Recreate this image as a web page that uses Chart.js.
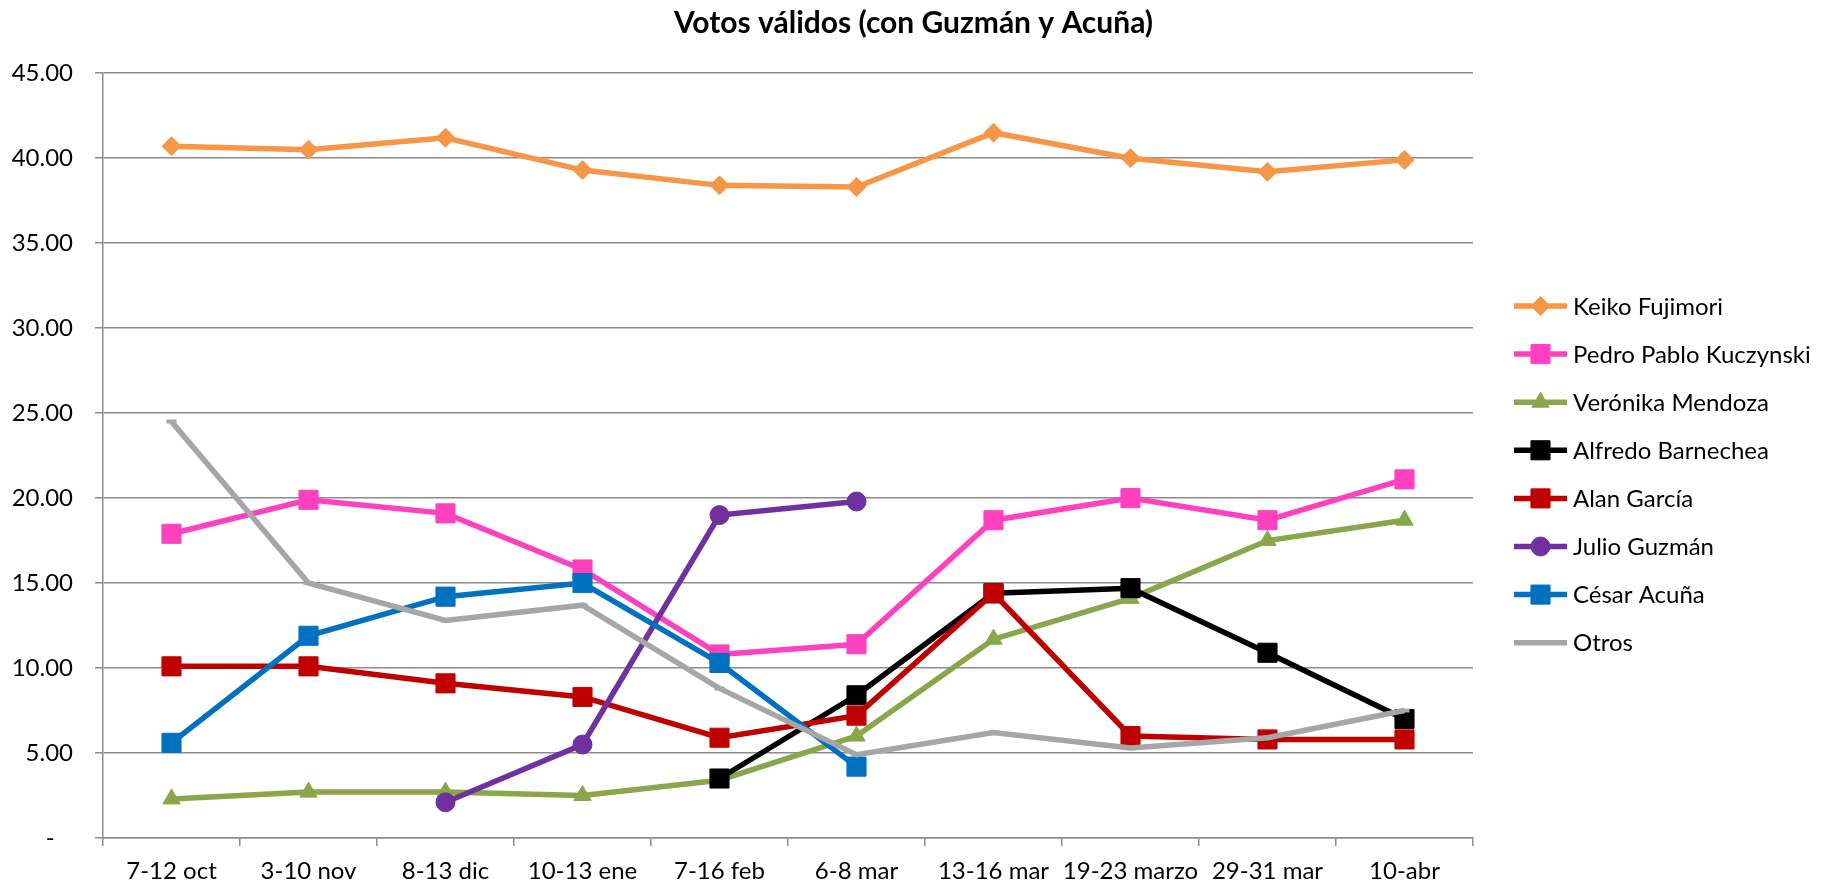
<!DOCTYPE html>
<html>
<head>
<meta charset="utf-8">
<title>Votos válidos</title>
<script src="https://cdn.jsdelivr.net/npm/chart.js@4"></script>
<style>
    body { margin: 0; background: #fff; }
    #wrap { width: 1827px; height: 886px; position: relative; }
</style>
</head>
<body>
<div id="wrap"><canvas id="lineChart"></canvas></div>
<script>
// Survey dates (x axis)
const fechas = ['7-12 oct', '3-10 nov', '8-13 dic', '10-13 ene', '7-16 feb', '6-8 mar', '13-16 mar', '19-23 marzo', '29-31 mar', '10-abr'];

// Valid votes per candidate (%), null where the candidate was not polled
const keiko = [40.7, 40.5, 41.2, 39.3, 38.4, 38.3, 41.5, 40.0, 39.2, 39.9];
const ppk = [17.9, 19.9, 19.1, 15.8, 10.8, 11.4, 18.7, 20.0, 18.7, 21.1];
const mendoza = [2.3, 2.7, 2.7, 2.5, 3.4, 6.0, 11.7, 14.1, 17.5, 18.7];
const barnechea = [null, null, null, null, 3.5, 8.4, 14.4, 14.7, 10.9, 7.0];
const garcia = [10.1, 10.1, 9.1, 8.3, 5.9, 7.2, 14.4, 6.0, 5.8, 5.8];
const guzman = [null, null, 2.1, 5.5, 19.0, 19.8, null, null, null, null];
const acuna = [5.6, 11.9, 14.2, 15.0, 10.3, 4.2, null, null, null, null];
const otros = [24.5, 15.0, 12.8, 13.7, 8.8, 4.9, 6.2, 5.3, 5.9, 7.5];

const yTicks = [0, 5, 10, 15, 20, 25, 30, 35, 40, 45];

const FONT = 'Lato';
const gridColor = '#8c8c8c';

function serie(label, data, color, style, radius) {
    return {
        label: label,
        data: data,
        borderColor: color,
        backgroundColor: color,
        borderWidth: 5.5,
        pointStyle: style,
        pointRadius: radius,
        pointBorderWidth: 1,
        pointBackgroundColor: color,
        pointBorderColor: color,
        tension: 0
    };
}

const datasets = [
    serie('Keiko Fujimori', keiko, '#F79646', 'rectRot', 9.5),
    serie('Pedro Pablo Kuczynski', ppk, '#FF40BF', 'rect', 13.5),
    serie('Verónika Mendoza', mendoza, '#8AA64A', 'triangle', 10),
    serie('Alfredo Barnechea', barnechea, '#000000', 'rect', 13.5),
    serie('Alan García', garcia, '#C00000', 'rect', 13.5),
    serie('Julio Guzmán', guzman, '#7030A0', 'circle', 9.5),
    serie('César Acuña', acuna, '#0070C0', 'rect', 13.5),
    serie('Otros', otros, '#A6A6A6', 'line', 5)
];
// later series are painted on top, like the original sheet
datasets.forEach((ds, i) => { ds.order = datasets.length - i; });
datasets[7].pointBorderWidth = 4;

// legend on the right: line with marker, then the name
const sideLegend = {
    id: 'sideLegend',
    afterDraw(chart) {
        const ctx = chart.ctx;
        chart.data.datasets.forEach((ds, i) => {
            const y = 306 + 48.1 * i;
            ctx.save();
            ctx.strokeStyle = ds.borderColor;
            ctx.fillStyle = ds.borderColor;
            ctx.lineWidth = 5.5;
            ctx.beginPath();
            ctx.moveTo(1514, y);
            ctx.lineTo(1567, y);
            ctx.stroke();
            if (ds.pointStyle !== 'line') {
                ctx.lineWidth = 1;
                Chart.helpers.drawPoint(ctx, { pointStyle: ds.pointStyle, radius: ds.pointRadius, borderWidth: 1, rotation: 0 }, 1540.5, y);
            }
            ctx.fillStyle = '#000';
            ctx.font = '24px ' + FONT;
            ctx.textAlign = 'left';
            ctx.textBaseline = 'middle';
            ctx.fillText(ds.label, 1573, y + 1);
            ctx.restore();
        });
    }
};

const ctx = document.getElementById('lineChart').getContext('2d');
new Chart(ctx, {
    type: 'line',
    data: {
        labels: fechas,
        datasets: datasets
    },
    options: {
        responsive: true,
        maintainAspectRatio: false,
        animation: false,
        layout: {
            padding: 0
        },
        plugins: {
            legend: { display: false },
            tooltip: { enabled: false },
            title: {
                display: true,
                text: 'Votos válidos (con Guzmán y Acuña)',
                color: '#000',
                font: { family: FONT, size: 30, weight: 'bold' },
                padding: { top: 5, bottom: 32.2 }
            }
        },
        scales: {
            x: {
                offset: true,
                grid: {
                    offset: true,
                    drawOnChartArea: false,
                    tickLength: 8,
                    color: gridColor,
                    lineWidth: 1.5
                },
                border: { color: gridColor, width: 1.5 },
                ticks: {
                    color: '#000',
                    font: { family: FONT, size: 24 },
                    padding: 11,
                    maxRotation: 0,
                    autoSkip: false
                },
                afterFit: s => { s.height = 48; }
            },
            y: {
                min: 0,
                max: 45,
                afterBuildTicks: s => { s.ticks = yTicks.map(v => ({ value: v })); },
                grid: {
                    tickLength: 8,
                    color: gridColor,
                    lineWidth: 1.5
                },
                border: { color: gridColor, width: 1.5 },
                ticks: {
                    color: '#000',
                    font: { family: FONT, size: 24 },
                    padding: 22,
                    callback: v => v === 0 ? '-   ' : v.toFixed(2)
                },
                afterFit: s => { s.width = 103; }
            },
            // empty box on the right that keeps room for the legend
            espacio: {
                type: 'linear',
                position: 'right',
                grid: { display: false },
                border: { display: false },
                ticks: { display: false },
                afterFit: s => { s.width = 354; }
            }
        }
    },
    plugins: [sideLegend]
});
</script>
</body>
</html>
